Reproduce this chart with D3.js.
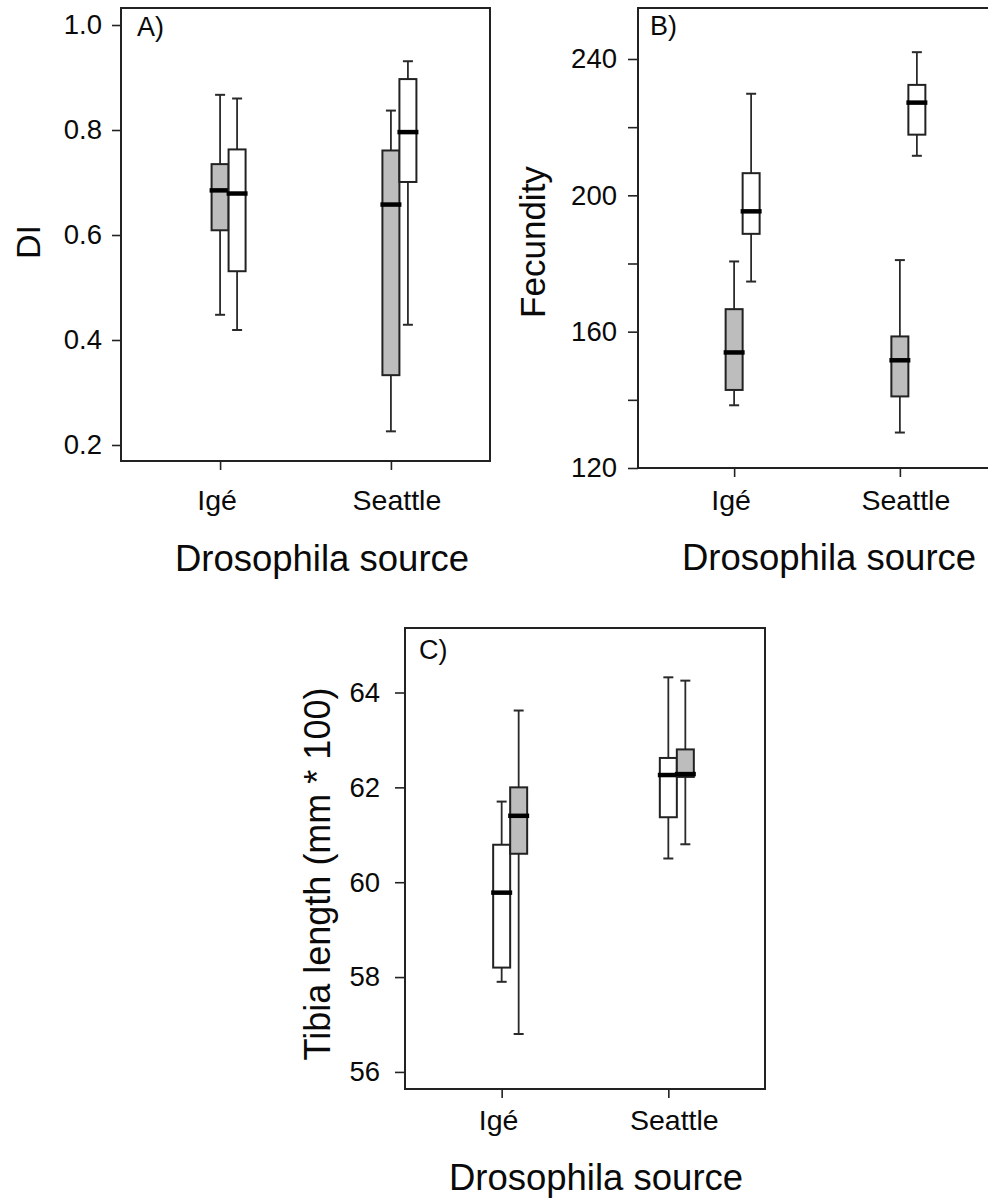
<!DOCTYPE html>
<html>
<head>
<meta charset="utf-8">
<script src="https://cdn.jsdelivr.net/npm/d3@7"></script>
<style>
    body { margin: 0; background: #fff; }
    text { font-family: "Liberation Sans", Arial, sans-serif; fill: #0a0a0a; }
</style>
</head>
<body>
<script>
(function(){

    //pseudo-global variables
    var sources = ["Igé", "Seattle"];

    //five number summaries per source: [min, q1, median, q3, max]
    var diGrey  = [[0.448, 0.609, 0.685, 0.735, 0.867], [0.226, 0.333, 0.658, 0.761, 0.837]];
    var diWhite = [[0.419, 0.531, 0.679, 0.763, 0.860], [0.429, 0.701, 0.796, 0.897, 0.931]];

    var fecGrey  = [[138.4, 142.9, 153.9, 166.6, 180.6], [130.4, 141.0, 151.6, 158.6, 181.0]];
    var fecWhite = [[174.7, 188.7, 195.3, 206.5, 229.8], [211.6, 217.8, 227.2, 232.4, 242.0]];

    var tibWhite = [[57.90, 58.20, 59.78, 60.79, 61.70], [60.50, 61.37, 62.26, 62.62, 64.32]];
    var tibGrey  = [[56.80, 60.60, 61.40, 62.00, 63.62], [60.80, 62.22, 62.28, 62.80, 64.25]];

    //tick values
    var diTicks = [0.2, 0.4, 0.6, 0.8, 1.0];
    var fecTicks = [120, 140, 160, 180, 200, 220, 240];
    var fecLabels = [120, 160, 200, 240];
    var tibTicks = [56, 58, 60, 62, 64];

    var greyFill = "#bdbdbd";

    //begin script when window loads
    window.onload = setFigure();

    function setFigure(){
        var svg = d3.select("body")
            .append("svg")
            .attr("width", 988)
            .attr("height", 1200);

        //panel A
        drawPanel(svg, {
            left: 121, right: 490, top: 8, bottom: 461,
            domain: [0.1695, 1.0324],
            ticks: diTicks,
            format: d3.format(".1f"),
            tickSize: 9, tickPad: 10,
            series: [{data: diGrey, fill: greyFill}, {data: diWhite, fill: "#fff"}],
            letter: "A)", letterX: 137, letterY: 36,
            yTitle: "DI", yTitleX: 40, yTitleY: 242, yTitleSize: 34,
            catY: 510, titleX: 322, titleY: 571
        });

        //panel B
        drawPanel(svg, {
            left: 638, right: 996, top: 8, bottom: 468,
            domain: [120, 254.96],
            ticks: fecTicks,
            format: function(d){ return fecLabels.indexOf(d) >= 0 ? d : ""; },
            tickSize: 10, tickPad: 11,
            series: [{data: fecGrey, fill: greyFill}, {data: fecWhite, fill: "#fff"}],
            letter: "B)", letterX: 650, letterY: 35,
            yTitle: "Fecundity", yTitleX: 545, yTitleY: 242, yTitleSize: 35,
            catY: 510, titleX: 829, titleY: 570
        });

        //panel C
        drawPanel(svg, {
            left: 405, right: 765, top: 628, bottom: 1089,
            domain: [55.64, 65.36],
            ticks: tibTicks,
            format: d3.format("d"),
            tickSize: 10, tickPad: 15,
            series: [{data: tibWhite, fill: "#fff"}, {data: tibGrey, fill: greyFill}],
            letter: "C)", letterX: 419, letterY: 659,
            yTitle: "Tibia length (mm * 100)", yTitleX: 330, yTitleY: 874, yTitleSize: 36,
            catY: 1130, titleX: 596, titleY: 1190
        });
    };

    function drawPanel(svg, cfg){
        var boxW = 17,
            capW = 10;

        var x = d3.scalePoint()
            .domain(sources)
            .range([cfg.left, cfg.right])
            .padding(0.58);

        var y = d3.scaleLinear()
            .domain(cfg.domain)
            .range([cfg.bottom, cfg.top]);

        var g = svg.append("g");

        //left axis
        var yAxis = d3.axisLeft(y)
            .tickValues(cfg.ticks)
            .tickFormat(cfg.format)
            .tickSize(cfg.tickSize)
            .tickPadding(cfg.tickPad);

        var ya = g.append("g")
            .attr("transform", "translate(" + cfg.left + ",0)")
            .call(yAxis);
        ya.select(".domain").remove();
        ya.selectAll("line").attr("stroke", "#222").attr("stroke-width", 1.6);
        ya.selectAll("text")
            .style("font-size", "27.5px")
            .attr("fill", "#0a0a0a");

        //bottom category ticks
        var xAxis = d3.axisBottom(x)
            .tickSize(9)
            .tickFormat("");

        var xa = g.append("g")
            .attr("transform", "translate(0," + cfg.bottom + ")")
            .call(xAxis);
        xa.select(".domain").remove();
        xa.selectAll("line").attr("stroke", "#222").attr("stroke-width", 1.6);

        //category labels, shifted a little as in the original layout
        g.selectAll(".cat")
            .data(sources)
            .enter()
            .append("text")
            .attr("class", "cat")
            .attr("x", function(d, i){ return x(d) + (i === 0 ? -3 : 6); })
            .attr("y", cfg.catY)
            .attr("text-anchor", "middle")
            .style("font-size", "28.5px")
            .text(function(d){ return d; });

        //boxes, one group per series
        cfg.series.forEach(function(s, si){
            var boxes = g.selectAll(".box" + si)
                .data(s.data)
                .enter()
                .append("g")
                .attr("class", "box" + si)
                .attr("transform", function(d, i){
                    return "translate(" + (x(sources[i]) + si * boxW) + ",0)";
                });

            //whisker
            boxes.append("line")
                .attr("x1", 0).attr("x2", 0)
                .attr("y1", function(d){ return y(d[0]); })
                .attr("y2", function(d){ return y(d[4]); })
                .attr("stroke", "#2a2a2a")
                .attr("stroke-width", 1.8);

            //caps
            [0, 4].forEach(function(k){
                boxes.append("line")
                    .attr("x1", -capW / 2).attr("x2", capW / 2)
                    .attr("y1", function(d){ return y(d[k]); })
                    .attr("y2", function(d){ return y(d[k]); })
                    .attr("stroke", "#2a2a2a")
                    .attr("stroke-width", 2);
            });

            //box
            boxes.append("rect")
                .attr("x", -boxW / 2)
                .attr("width", boxW)
                .attr("y", function(d){ return y(d[3]); })
                .attr("height", function(d){ return y(d[1]) - y(d[3]); })
                .attr("fill", s.fill)
                .attr("stroke", "#222")
                .attr("stroke-width", 2);

            //median
            boxes.append("line")
                .attr("x1", -boxW / 2 - 2).attr("x2", boxW / 2 + 2)
                .attr("y1", function(d){ return y(d[2]); })
                .attr("y2", function(d){ return y(d[2]); })
                .attr("stroke", "#000")
                .attr("stroke-width", 4.5);
        });

        //frame
        g.append("rect")
            .attr("x", cfg.left)
            .attr("y", cfg.top)
            .attr("width", cfg.right - cfg.left)
            .attr("height", cfg.bottom - cfg.top)
            .attr("fill", "none")
            .attr("stroke", "#222")
            .attr("stroke-width", 2);

        //panel letter
        g.append("text")
            .attr("x", cfg.letterX)
            .attr("y", cfg.letterY)
            .style("font-size", "27px")
            .text(cfg.letter);

        //y title
        g.append("text")
            .attr("transform", "translate(" + cfg.yTitleX + "," + cfg.yTitleY + ") rotate(-90)")
            .attr("text-anchor", "middle")
            .style("font-size", cfg.yTitleSize + "px")
            .text(cfg.yTitle);

        //x title
        g.append("text")
            .attr("x", cfg.titleX)
            .attr("y", cfg.titleY)
            .attr("text-anchor", "middle")
            .style("font-size", "36.5px")
            .text("Drosophila source");
    };

})();
</script>
</body>
</html>
